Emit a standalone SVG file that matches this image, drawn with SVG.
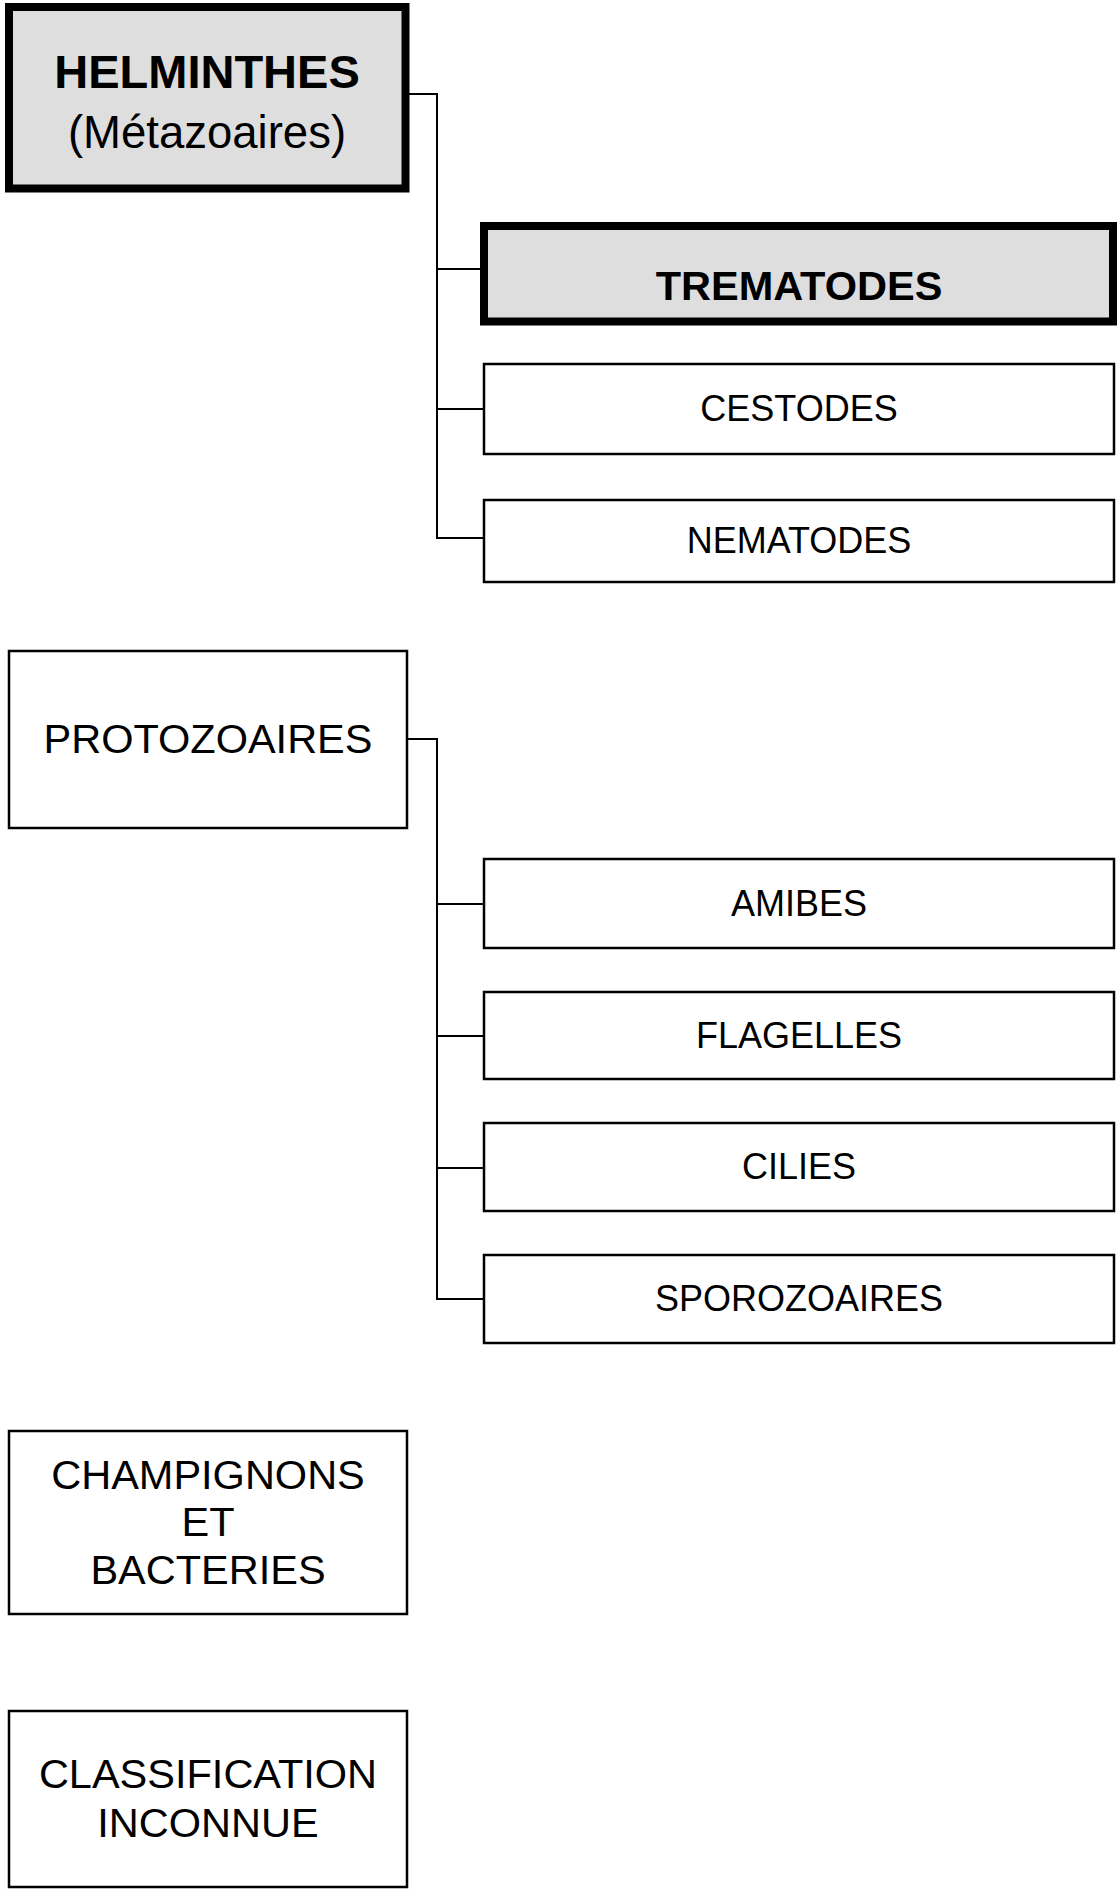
<svg xmlns="http://www.w3.org/2000/svg" width="1117" height="1889" viewBox="0 0 1117 1889">
<style>
text{font-family:"Liberation Sans",Arial,sans-serif;fill:#000;text-anchor:middle}
.thin{fill:#fff;stroke:#000;stroke-width:2.5}
.thick{fill:#dedede;stroke:#000;stroke-width:8}
.t{font-size:36px}
.big{font-size:41.5px}
.con{fill:none;stroke:#000;stroke-width:2}
</style>
<rect width="1117" height="1889" fill="#fff"/>
<g id="connectors">
<polyline class="con" points="409,94 437,94 437,538 484,538"/>
<line class="con" x1="437" y1="269" x2="484" y2="269"/>
<line class="con" x1="437" y1="409" x2="484" y2="409"/>
<polyline class="con" points="407,739 437,739 437,1299 484,1299"/>
<line class="con" x1="437" y1="904" x2="484" y2="904"/>
<line class="con" x1="437" y1="1036" x2="484" y2="1036"/>
<line class="con" x1="437" y1="1168" x2="484" y2="1168"/>
</g>
<g id="helminthes">
<rect class="thick" x="9" y="7" width="396.5" height="181.5"/>
<text x="207" y="88" style="font-size:47px;font-weight:bold">HELMINTHES</text>
<text x="207" y="148" style="font-size:45.5px">(Métazoaires)</text>
</g>
<g id="trematodes">
<rect class="thick" x="484" y="226" width="629" height="95.5"/>
<text x="799" y="300" style="font-size:41.5px;font-weight:bold">TREMATODES</text>
</g>
<g id="cestodes">
<rect class="thin" x="484" y="364" width="630" height="90"/>
<text class="t" x="799" y="421">CESTODES</text>
</g>
<g id="nematodes">
<rect class="thin" x="484" y="500" width="630" height="82"/>
<text class="t" x="799" y="553">NEMATODES</text>
</g>
<g id="protozoaires">
<rect class="thin" x="9" y="651" width="398" height="177"/>
<text class="big" x="208" y="753">PROTOZOAIRES</text>
</g>
<g id="amibes">
<rect class="thin" x="484" y="859" width="630" height="89"/>
<text class="t" x="799" y="916">AMIBES</text>
</g>
<g id="flagelles">
<rect class="thin" x="484" y="992" width="630" height="87"/>
<text class="t" x="799" y="1048">FLAGELLES</text>
</g>
<g id="cilies">
<rect class="thin" x="484" y="1123" width="630" height="88"/>
<text class="t" x="799" y="1179">CILIES</text>
</g>
<g id="sporozoaires">
<rect class="thin" x="484" y="1255" width="630" height="88"/>
<text class="t" x="799" y="1311">SPOROZOAIRES</text>
</g>
<g id="champignons">
<rect class="thin" x="9" y="1431" width="398" height="183"/>
<text class="big" x="208" y="1489">CHAMPIGNONS</text>
<text class="big" x="208" y="1536">ET</text>
<text class="big" x="208" y="1584">BACTERIES</text>
</g>
<g id="classification">
<rect class="thin" x="9" y="1711" width="398" height="176"/>
<text class="big" x="208" y="1788">CLASSIFICATION</text>
<text class="big" x="208" y="1837">INCONNUE</text>
</g>
</svg>
